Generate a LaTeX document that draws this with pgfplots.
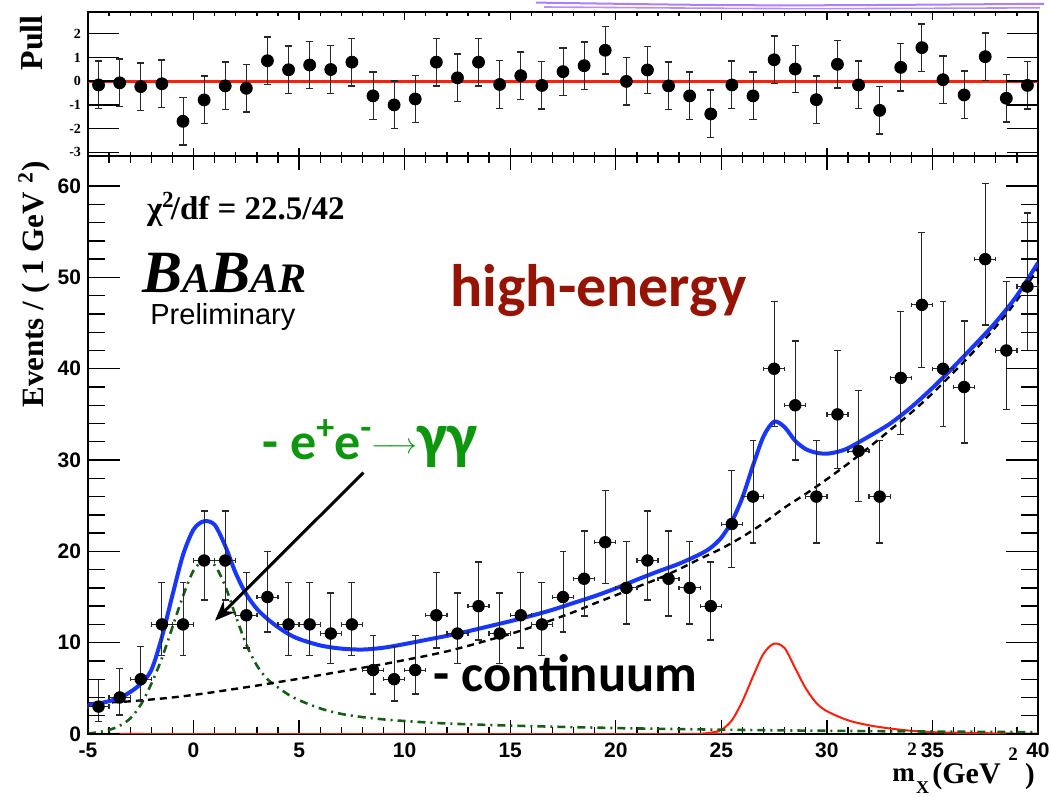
\documentclass[border=0pt]{standalone}
\usepackage{pgfplots}
\pgfplotsset{compat=1.18}
\usepackage{pgfplotstable}
\usepackage{fontspec}
\setmainfont{Liberation Serif}
\newfontfamily\helv{Liberation Sans}
\newfontfamily\calib{Carlito}
\usetikzlibrary{arrows.meta}

\definecolor{fitblue}{RGB}{25,55,250}
\definecolor{sigred}{RGB}{255,30,10}
\definecolor{ggreen}{RGB}{20,95,20}
\definecolor{txtgreen}{RGB}{15,150,15}
\definecolor{txtred}{RGB}{150,20,5}
\definecolor{errgrey}{RGB}{40,40,40}
\definecolor{penviolet}{RGB}{150,95,255}

\pgfplotstableread{
x y ep em
-4.5 3 2.94 1.66
-3.5 4 3.18 1.94
-2.5 6 3.60 2.40
-1.5 12 4.57 3.43
-0.5 12 4.57 3.43
0.5 19 5.44 4.33
1.5 19 5.44 4.33
2.5 13 4.71 3.57
3.5 15 4.97 3.84
4.5 12 4.57 3.43
5.5 12 4.57 3.43
6.5 11 4.43 3.28
7.5 12 4.57 3.43
8.5 7 3.78 2.60
9.5 6 3.60 2.40
10.5 7 3.78 2.60
11.5 13 4.71 3.57
12.5 11 4.43 3.28
13.5 14 4.84 3.71
14.5 11 4.43 3.28
15.5 13 4.71 3.57
16.5 12 4.57 3.43
17.5 15 4.97 3.84
18.5 17 5.21 4.09
19.5 21 5.66 4.55
20.5 16 5.09 3.97
21.5 19 5.44 4.33
22.5 17 5.21 4.09
23.5 16 5.09 3.97
24.5 14 4.84 3.71
25.5 23 5.87 4.77
26.5 26 6.17 5.07
27.5 40 7.38 6.30
28.5 36 7.06 5.98
29.5 26 6.17 5.07
30.5 35 6.98 5.90
31.5 31 6.63 5.55
32.5 26 6.17 5.07
33.5 39 7.30 6.22
34.5 47 7.91 6.84
35.5 40 7.38 6.30
36.5 38 7.22 6.14
37.5 52 8.26 7.19
38.5 42 7.54 6.46
39.5 49 8.05 6.98
}\maindata

\pgfplotstableread{
x p
-4.5 -0.16
-3.5 -0.07
-2.5 -0.23
-1.5 -0.11
-0.5 -1.69
0.5 -0.79
1.5 -0.20
2.5 -0.30
3.5 0.86
4.5 0.48
5.5 0.68
6.5 0.49
7.5 0.80
8.5 -0.62
9.5 -1.00
10.5 -0.75
11.5 0.80
12.5 0.14
13.5 0.80
14.5 -0.14
15.5 0.23
16.5 -0.18
17.5 0.40
18.5 0.65
19.5 1.30
20.5 -0.01
21.5 0.47
22.5 -0.20
23.5 -0.62
24.5 -1.38
25.5 -0.16
26.5 -0.62
27.5 0.90
28.5 0.51
29.5 -0.78
30.5 0.71
31.5 -0.16
32.5 -1.23
33.5 0.58
34.5 1.41
35.5 0.06
36.5 -0.58
37.5 1.03
38.5 -0.72
39.5 -0.18
}\pulldata

\pgfplotstableread{
x y
-5 3.2
-4.5 3.35
-4 3.6
-3.5 3.95
-3 4.6
-2.5 5.5
-2 7.0
-1.5 10.6
-1 15.2
-0.5 19.6
0 22.4
0.5 23.3
1 22.9
1.5 20.6
2 17.6
2.5 15.3
3 13.7
3.5 12.6
4 11.7
4.5 10.95
5 10.4
6 9.7
7 9.35
8 9.25
9 9.45
10 9.85
11 10.3
12 10.75
13 11.25
14 11.8
15 12.35
16 12.95
17 13.6
18 14.35
19 15.1
20 15.95
21 16.9
22 17.8
23 18.65
24 19.7
24.5 20.4
25 21.5
25.5 23.3
26 25.9
26.5 29.4
27 32.6
27.5 34.2
28 33.6
28.5 32.1
29 31.2
29.5 30.8
30 30.7
30.5 30.9
31 31.3
32 32.6
33 34.0
34 35.8
35 37.9
36 40.2
37 42.6
38 45.1
39 48.0
40 51.6
}\totalfit

\pgfplotstableread{
x y
-5 3.35
-4 3.45
-3 3.58
-2 3.78
-1 4.0
0 4.28
1 4.6
2 4.95
3 5.3
4 5.68
5 6.05
6 6.45
7 6.85
8 7.25
9 7.65
10 8.1
11 8.55
12 9.05
13 9.65
14 10.3
15 10.95
16 11.7
17 12.5
18 13.35
19 14.3
20 15.2
21 16.1
22 17.0
23 18.05
24 19.2
25 20.3
26 21.6
27 23.1
28 24.8
29 26.3
30 27.9
31 29.6
32 31.4
33 33.3
34 35.2
35 37.3
36 39.6
37 42.0
38 44.6
39 47.5
40 51.0
}\contfit

\pgfplotstableread{
x y
-5 0.05
-4.5 0.2
-4 0.45
-3.5 0.9
-3 1.7
-2.5 3.2
-2 5.5
-1.5 8.3
-1 11.7
-0.5 15.1
0 17.9
0.5 19.0
1 18.5
1.5 16.2
2 12.9
2.5 9.8
3 7.5
3.5 6.0
4 5.1
4.5 4.3
5 3.7
6 2.8
7 2.2
8 1.85
9 1.6
10 1.42
12 1.15
15 0.92
20 0.65
25 0.47
30 0.35
35 0.27
40 0.2
}\ggfit

\pgfplotstableread{
x y
-5 0
23.5 0
24 0.03
24.5 0.15
25 0.45
25.5 1.5
26 3.6
26.5 6.3
27 8.8
27.5 9.9
28 9.4
28.5 7.2
29 5.0
29.5 3.4
30 2.5
31 1.5
32 0.95
33 0.6
34 0.35
35 0.2
37 0.1
40 0.03
}\sigfit

\pgfplotsset{
  rootbase/.style={
    anchor=south west, scale only axis, width=475pt,
    xmin=-5, xmax=40, tick align=inside,
    axis line style={line width=1pt},
    tick style={black, line width=0.7pt},
    /pgf/number format/assume math mode=true,
  },
  mainbase/.style={rootbase, at={(44pt,31.5pt)}, height=289pt, ymin=0, ymax=63.3},
  pullbase/.style={rootbase, at={(44pt,320.5pt)}, height=71.75pt, ymin=-3.15, ymax=2.89},
  errbar/.style={only marks, mark=none, errgrey, line width=0.7pt},
  capstyle/.style={only marks, errgrey, mark options={line width=0.7pt, errgrey}},
}

\begin{document}
\begin{tikzpicture}
\useasboundingbox (0,0) rectangle (525pt,398.5pt);

% ---------- main panel: data and x ticks
\begin{axis}[mainbase,
  xtick distance=5, minor x tick num=4, ytick=\empty,
  major tick length=7pt, minor tick length=3.5pt,
  xticklabel style={font=\helv\bfseries\fontsize{10.5}{12}\selectfont, yshift=-1pt},
]
\addplot[sigred, line width=1pt, smooth, tension=0.5] table[x=x,y=y]{\sigfit};
\addplot[ggreen, line width=1.3pt, dash pattern=on 4pt off 2.5pt on 1pt off 2.5pt, smooth, tension=0.5] table[x=x,y=y]{\ggfit};
\addplot[black, line width=1.2pt, dash pattern=on 3.5pt off 2.5pt, smooth, tension=0.5] table[x=x,y=y]{\contfit};
\addplot[fitblue, line width=2pt, smooth, tension=0.5] table[x=x,y=y]{\totalfit};
% error bars
\addplot[errbar, error bars/.cd, x dir=both, x fixed=0.5, error mark=none]
  table[x=x,y=y]{\maindata};
\addplot[errbar, error bars/.cd, y dir=both, y explicit, error mark=none]
  table[x=x,y=y,y error plus=ep,y error minus=em]{\maindata};
% caps
\addplot[capstyle, mark=-, mark size=1.7pt] table[x=x, y expr=\thisrow{y}+\thisrow{ep}]{\maindata};
\addplot[capstyle, mark=-, mark size=1.7pt] table[x=x, y expr=\thisrow{y}-\thisrow{em}]{\maindata};
\addplot[capstyle, mark=|, mark size=1.1pt] table[x expr=\thisrow{x}+0.5, y=y]{\maindata};
\addplot[capstyle, mark=|, mark size=1.1pt] table[x expr=\thisrow{x}-0.5, y=y]{\maindata};
\addplot[only marks, mark=*, mark size=2.9pt, black] table[x=x,y=y]{\maindata};
\end{axis}

% ---------- main panel: y ticks
\begin{axis}[mainbase,
  xtick=\empty, ytick distance=10, minor y tick num=4,
  major tick length=16pt, minor tick length=8.3pt,
  axis line style={draw=none},
  yticklabel style={font=\helv\bfseries\fontsize{10.5}{12}\selectfont},
]
\end{axis}

% ---------- pull panel: data and x ticks
\begin{axis}[pullbase,
  xtick distance=5, minor x tick num=4, xticklabels=\empty, ytick=\empty,
  major tick length=4pt, minor tick length=1.8pt,
]
\addplot[sigred, line width=1.5pt] coordinates {(-5,0) (40,0)};
\addplot[errbar, error bars/.cd, y dir=both, y fixed=1, error mark=none]
  table[x=x,y=p]{\pulldata};
\addplot[capstyle, mark=-, mark size=1.8pt] table[x=x, y expr=\thisrow{p}+1]{\pulldata};
\addplot[capstyle, mark=-, mark size=1.8pt] table[x=x, y expr=\thisrow{p}-1]{\pulldata};
\addplot[only marks, mark=*, mark size=3pt, black] table[x=x,y=p]{\pulldata};
\end{axis}

% ---------- pull panel: y ticks
\begin{axis}[pullbase,
  xtick=\empty, ytick={-3,-2,-1,0,1,2},
  major tick length=15.5pt,
  axis line style={draw=none},
  yticklabel style={font=\bfseries\fontsize{7}{8}\selectfont},
]
\end{axis}

% ---------- axis titles
\node[rotate=90, anchor=base east, inner sep=0pt] at (21pt,391pt)
  {\bfseries\fontsize{16}{16}\selectfont Pull};
\node[rotate=90, anchor=base east, inner sep=0pt] at (21.5pt,318pt)
  {\bfseries\fontsize{15.5}{16}\selectfont Events / ( 1 GeV\,\textsuperscript{\,2})};
% x title, set piece by piece: m, stacked 2 over X, (GeV, superscript 2, )
\node[anchor=base west, inner sep=0pt] at (446pt,7.5pt)
  {\bfseries\fontsize{13.5}{14}\selectfont m};
\node[anchor=base, inner sep=0pt] at (456pt,20.5pt)
  {\bfseries\fontsize{9.5}{10}\selectfont 2};
\node[anchor=base, inner sep=0pt] at (461.3pt,1.6pt)
  {\bfseries\fontsize{9}{10}\selectfont X};
\node[anchor=base west, inner sep=0pt] at (466pt,6.5pt)
  {\bfseries\fontsize{15}{15}\selectfont (GeV};
\node[anchor=base, inner sep=0pt] at (506.5pt,18pt)
  {\bfseries\fontsize{9.5}{10}\selectfont 2};
\node[anchor=base west, inner sep=0pt] at (512.3pt,6.5pt)
  {\bfseries\fontsize{14.5}{15}\selectfont )};

% ---------- annotations
\node[anchor=base west, inner sep=0pt] at (73.3pt,288.5pt)
  {\bfseries\fontsize{16.5}{17}\selectfont χ\textsuperscript{2}\kern-0.12em/df = 22.5/42};
\node[anchor=base west, inner sep=0pt] at (70.8pt,252pt)
  {\bfseries\itshape\fontsize{30}{30}\selectfont B{\fontsize{21}{21}\selectfont A}B{\fontsize{21}{21}\selectfont AR}};
\node[anchor=base west, inner sep=0pt] at (75pt,236pt)
  {\helv\fontsize{14.5}{15}\selectfont Preliminary};
\node[anchor=base west, inner sep=0pt, text=txtred] at (225pt,245pt)
  {\calib\bfseries\fontsize{30}{30}\selectfont high-energy};
\node[anchor=base west, inner sep=0pt, text=txtgreen] at (131pt,168.5pt)
  {\calib\bfseries\fontsize{26}{26}\selectfont - e\raisebox{0.4em}{\fontsize{18}{18}\selectfont +}e\raisebox{0.4em}{\fontsize{18}{18}\selectfont -}\raisebox{3pt}{\fontsize{15}{15}\selectfont$\longrightarrow$}\raisebox{1pt}{\fontsize{32}{32}\selectfont γγ}};
\node[anchor=base west, inner sep=0pt] at (216.5pt,52.5pt)
  {\calib\bfseries\fontsize{26.3}{28}\selectfont - continuum};
\draw[black, line width=1.5pt, -{Stealth[length=10pt,width=8pt]}] (181.7pt,162.2pt) -- (107.5pt,88.2pt);

% ---------- pen scribble at top right
\draw[penviolet, line width=1pt, opacity=0.8] (268pt,397.2pt) .. controls (380pt,395.5pt) .. (522pt,396.6pt);
\draw[penviolet, line width=0.8pt, opacity=0.7] (272pt,395pt) .. controls (400pt,394pt) .. (520pt,394.6pt);
\end{tikzpicture}
\end{document}
